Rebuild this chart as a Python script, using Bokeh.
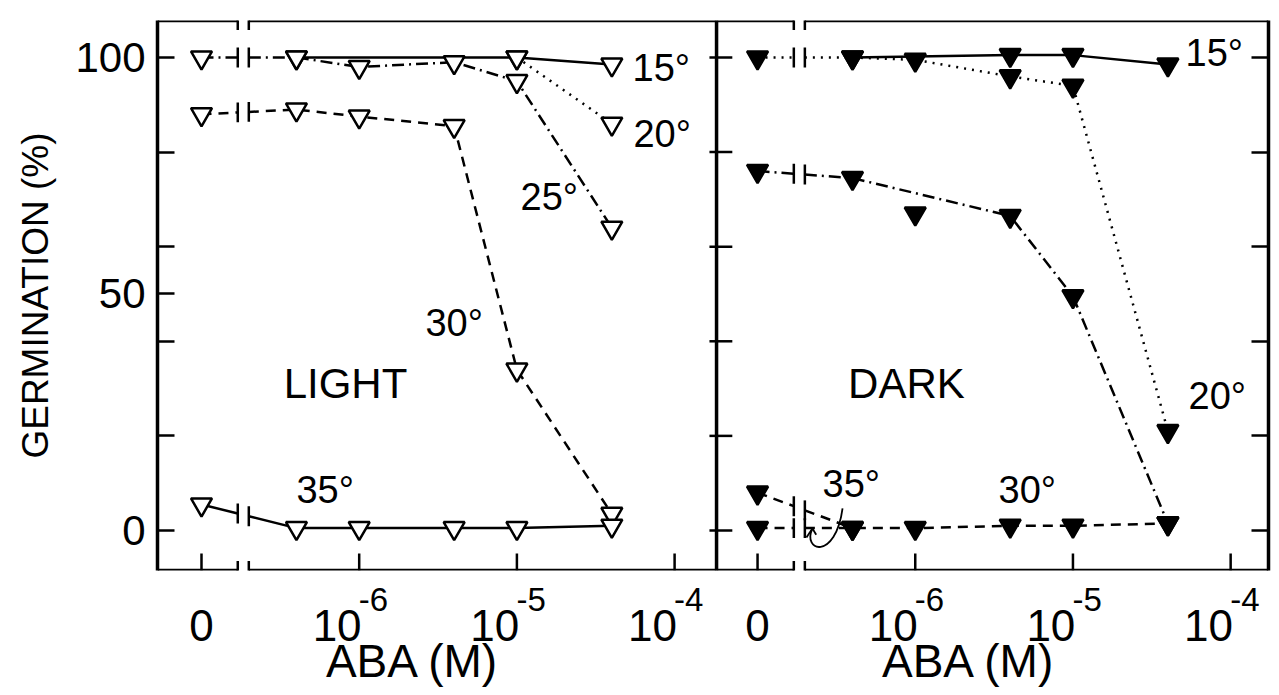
import math
from bokeh.plotting import figure
from bokeh.models import FixedTicker, LinearAxis, Label, Arrow, Range1d
from bokeh.embed import file_html
from bokeh.resources import INLINE

# ---- data -------------------------------------------------------------
# ABA doses (M); the zero dose is drawn one decade below 10^-6
ABA_DOSES = [0, 4e-7, 1e-6, 4e-6, 1e-5, 4e-5]
ZERO_DOSE_POS = -7.0
DOSE_TICKS = [0, 1e-6, 1e-5, 1e-4]
DOSE_TICK_BASES = ["0", "10", "10", "10"]
DOSE_TICK_EXPONENTS = ["", "-6", "-5", "-4"]
PCT_TICKS = [0, 20, 40, 50, 60, 80, 100]
PCT_TICK_LABELS = {0: "0", 20: "", 40: "", 50: "50", 60: "", 80: "", 100: "100"}
PCT_TICKS_RIGHT = [0, 20, 40, 60, 80, 100]
X_TITLE = "ABA (M)"

# Light-grown seeds (germination %)
light_15_dose = [4e-7, 1e-5, 4e-5]
light_15_pct = [100, 100, 98.5]
light_20_dose = [1e-5, 4e-5]
light_20_pct = [100, 86]
light_25_dose = ABA_DOSES
light_25_pct = [100, 100, 98, 99, 95, 64]
light_30_dose = ABA_DOSES
light_30_pct = [88, 89, 87.5, 85.5, 34, 3.5]
light_35_dose = ABA_DOSES
light_35_pct = [5.5, 0.5, 0.5, 0.5, 0.5, 1]

# Dark-grown seeds (germination %)
dark_15_dose = [4e-7, 4e-6, 1e-5, 4e-5]
dark_15_pct = [100, 100.5, 100.5, 98.5]
dark_20_dose = ABA_DOSES
dark_20_pct = [100, 100, 99.5, 96, 94, 21]
dark_25_dose = [0, 4e-7, 4e-6, 1e-5, 4e-5]
dark_25_pct = [76, 74.5, 66.5, 49.5, 1.5]
dark_extra_dose = [1e-6]
dark_extra_pct = [67]
dark_30_dose = ABA_DOSES
dark_30_pct = [0.5, 0.5, 0.5, 1, 1, 1.5]
dark_35_dose = [0, 4e-7]
dark_35_pct = [8, 0.5]

# ---- layout constants (log10 dose units) -------------------------------
PANEL_SHIFT = 3.526          # right panel offset along x
X_START, X_END = -7.279, -0.234
DIVIDER = -3.734
Y_BOT, Y_TOP = -8.46, 107.82
BREAK = (-6.77, -6.70)
TICK_LEN = 3.6               # inward tick length, % units
EXP_DX = 0.09                # exponent label offset from its tick
BASE_DX = -0.14              # "10" label offset from its tick
FONT = "Liberation Sans"

DOTTED = "2 6"
DASHED = "10 7"
DASHDOT = "12 5 2 5"


def dose_pos(d):
    return ZERO_DOSE_POS if d == 0 else math.log10(d)


p = figure(frame_width=1111, frame_height=550,
           x_range=Range1d(X_START, X_END), y_range=Range1d(Y_BOT, Y_TOP),
           output_backend="svg", toolbar_location=None,
           min_border_left=157, min_border_right=11,
           min_border_top=20, min_border_bottom=125)
p.xgrid.visible = False
p.ygrid.visible = False
p.outline_line_color = None
p.background_fill_color = "white"
p.border_fill_color = "white"

markers = []


def draw_series(doses, pcts, panel, dash, filled):
    shift = panel * PANEL_SHIFT
    xs = [dose_pos(d) + shift for d in doses]
    style = dict(line_color="black", line_width=2.5, line_dash=dash)
    if doses[0] == 0 and len(doses) > 1:
        bl, br = BREAK[0] + shift, BREAK[1] + shift
        x0, x1, y0, y1 = xs[0], xs[1], pcts[0], pcts[1]
        yl = y0 + (y1 - y0) * (bl - x0) / (x1 - x0)
        yr = y0 + (y1 - y0) * (br - x0) / (x1 - x0)
        p.line([x0, bl], [y0, yl], **style)
        p.line([br] + xs[1:], [yr] + list(pcts[1:]), **style)
        p.segment(x0=[bl, br], y0=[yl - 2.1, yr - 2.1], x1=[bl, br],
                  y1=[yl + 2.1, yr + 2.1], line_color="black", line_width=2.5)
    else:
        p.line(xs, pcts, **style)
    markers.append((xs, pcts, filled))


# LIGHT panel: open triangles
draw_series(light_25_dose, light_25_pct, 0, DASHDOT, False)
draw_series(light_20_dose, light_20_pct, 0, DOTTED, False)
draw_series(light_15_dose, light_15_pct, 0, "solid", False)
draw_series(light_30_dose, light_30_pct, 0, DASHED, False)
draw_series(light_35_dose, light_35_pct, 0, "solid", False)

# DARK panel: filled triangles
draw_series(dark_20_dose, dark_20_pct, 1, DOTTED, True)
draw_series(dark_15_dose, dark_15_pct, 1, "solid", True)
draw_series(dark_25_dose, dark_25_pct, 1, DASHDOT, True)
draw_series(dark_30_dose, dark_30_pct, 1, DASHED, True)
draw_series(dark_35_dose, dark_35_pct, 1, DASHED, True)
markers.append(([dose_pos(d) + PANEL_SHIFT for d in dark_extra_dose], dark_extra_pct, True))

for xs, ys, filled in markers:
    p.scatter(xs, ys, marker="inverted_triangle", size=21,
              fill_color="black" if filled else "white",
              line_color="black", line_width=2.5)

# curly pointer from the 35° label in the dark panel
s = PANEL_SHIFT
p.bezier(x0=[-6.461 + s], y0=[4.65], x1=[-6.652 + s], y1=[0.42],
         cx0=[-6.506 + s], cy0=[-6.5], cx1=[-6.72 + s], cy1=[-4.4],
         line_color="black", line_width=1.8)
p.segment(x0=[-6.652 + s, -6.652 + s], y0=[0.42, 0.42],
          x1=[-6.69 + s, -6.628 + s], y1=[-1.5, -0.9],
          line_color="black", line_width=1.8)

# ---- frame: top / bottom edges with axis breaks, divider ---------------
for left, right, shift in [(X_START, DIVIDER, 0), (DIVIDER, X_END, PANEL_SHIFT)]:
    bl, br = BREAK[0] + shift, BREAK[1] + shift
    for y in (Y_TOP, Y_BOT):
        for xa_, xb_ in [(left, bl), (br, right)]:
            p.add_layout(Arrow(end=None, x_start=xa_, y_start=y, x_end=xb_, y_end=y,
                               line_color="black", line_width=3.5))
        for xb_ in (bl, br):
            p.add_layout(Arrow(end=None, x_start=xb_, y_start=y - 2.0, x_end=xb_, y_end=y + 2.0,
                               line_color="black", line_width=2.5))

p.segment(x0=[DIVIDER], y0=[Y_BOT], x1=[DIVIDER], y1=[Y_TOP],
          line_color="black", line_width=3.5)
p.segment(x0=[DIVIDER - 0.045] * len(PCT_TICKS_RIGHT), y0=PCT_TICKS_RIGHT,
          x1=[DIVIDER + 0.10] * len(PCT_TICKS_RIGHT), y1=PCT_TICKS_RIGHT,
          line_color="black", line_width=2.5)

# inward dose ticks on the bottom edge of both panels
dose_tick_x = [dose_pos(d) + k * PANEL_SHIFT for k in (0, 1) for d in DOSE_TICKS]
p.segment(x0=dose_tick_x, y0=[Y_BOT] * len(dose_tick_x),
          x1=dose_tick_x, y1=[Y_BOT + TICK_LEN] * len(dose_tick_x),
          line_color="black", line_width=2.5)

# ---- axes ----------------------------------------------------------------
def label_axis(axis, ticks, labels, size, standoff):
    axis.ticker = FixedTicker(ticks=ticks)
    axis.major_label_overrides = dict(zip(ticks, labels))
    axis.major_label_text_font = FONT
    axis.major_label_text_font_size = size
    axis.major_label_text_color = "black"
    axis.major_label_standoff = standoff
    axis.major_tick_line_color = None
    axis.minor_tick_line_color = None
    axis.axis_line_color = None


# exponents (nearest the frame), then the bases, then the axis title
exp_ticks, exp_text, base_ticks, base_text = [], [], [], []
for k in (0, 1):
    for d, base, exp in zip(DOSE_TICKS, DOSE_TICK_BASES, DOSE_TICK_EXPONENTS):
        x = dose_pos(d) + k * PANEL_SHIFT
        if exp:
            exp_ticks.append(round(x + EXP_DX, 6))
            exp_text.append(exp)
            base_ticks.append(round(x + BASE_DX, 6))
        else:
            base_ticks.append(round(x, 6))
        base_text.append(base)

label_axis(p.xaxis[0], exp_ticks, exp_text, "33px", 11)
base_axis = LinearAxis()
label_axis(base_axis, base_ticks, base_text, "44px", -10)
p.add_layout(base_axis, "below")
title_ticks = [round(-5.66 + k * PANEL_SHIFT, 6) for k in (0, 1)]
title_axis = LinearAxis()
label_axis(title_axis, title_ticks, [X_TITLE, X_TITLE], "46px", -15)
p.add_layout(title_axis, "below")

ya = p.yaxis[0]
ya.ticker = FixedTicker(ticks=PCT_TICKS)
ya.major_label_overrides = PCT_TICK_LABELS
ya.major_label_text_font = FONT
ya.major_label_text_font_size = "42px"
ya.major_label_text_color = "black"
ya.major_label_standoff = 12
ya.major_tick_in = 17
ya.major_tick_out = 0
ya.major_tick_line_width = 2.5
ya.major_tick_line_color = "black"
ya.minor_tick_line_color = None
ya.axis_line_width = 3.5
ya.axis_line_color = "black"
ya.axis_label = "GERMINATION (%)"
ya.axis_label_text_font = FONT
ya.axis_label_text_font_size = "37px"
ya.axis_label_text_font_style = "normal"
ya.axis_label_text_color = "black"
ya.axis_label_standoff = 16

ra = LinearAxis(ticker=FixedTicker(ticks=PCT_TICKS_RIGHT),
                major_label_overrides={t: "" for t in PCT_TICKS_RIGHT},
                major_label_standoff=0,
                major_tick_in=17, major_tick_out=0, major_tick_line_width=2.5,
                minor_tick_line_color=None, axis_line_width=3.5)
p.add_layout(ra, "right")

# series and panel labels: (panel, x, y, text, size, align)
annotations = [
    (0, -4.267, 97.7, "15°", "38px", "left"),
    (0, -4.261, 83.9, "20°", "38px", "left"),
    (0, -4.977, 70.4, "25°", "38px", "left"),
    (0, -5.580, 43.8, "30°", "38px", "left"),
    (0, -6.398, 8.5, "35°", "38px", "left"),
    (0, -6.087, 31.1, "LIGHT", "42px", "center"),
    (1, -4.286, 101.0, "15°", "38px", "left"),
    (1, -4.267, 28.5, "20°", "38px", "left"),
    (1, -5.472, 8.5, "30°", "38px", "left"),
    (1, -6.588, 9.9, "35°", "38px", "left"),
    (1, -6.056, 31.1, "DARK", "42px", "center"),
]
for panel, x, y, text, size, align in annotations:
    p.add_layout(Label(x=x + panel * PANEL_SHIFT, y=y, text=text, text_align=align,
                       text_baseline="middle", text_font=FONT,
                       text_font_size=size, text_color="black"))

open("out.html", "w").write(file_html(p, INLINE))
